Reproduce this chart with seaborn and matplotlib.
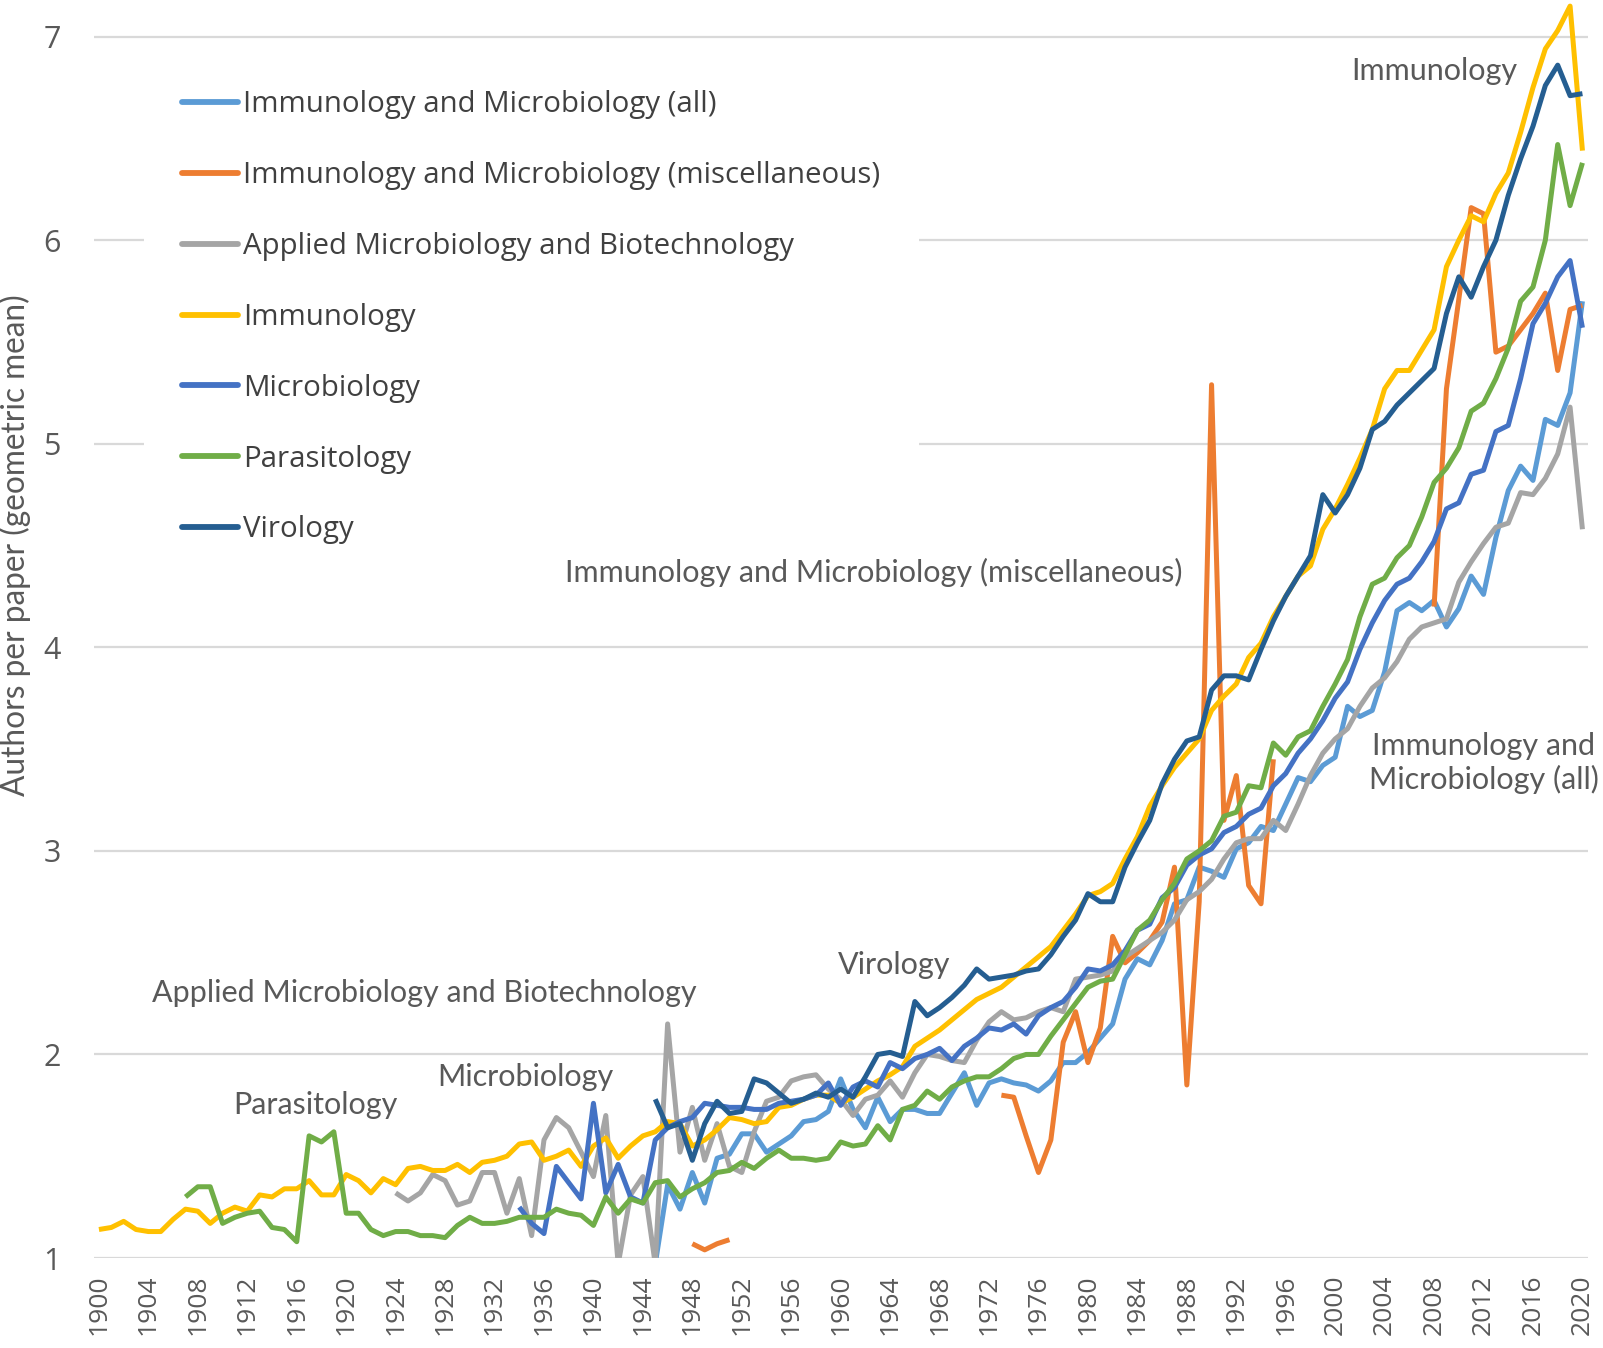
import matplotlib
matplotlib.use("Agg")
import matplotlib.pyplot as plt
from matplotlib.lines import Line2D
import seaborn as sns
import pandas as pd

# ---------------- data ----------------
series_names = [
    "Immunology and Microbiology (all)",
    "Immunology and Microbiology (miscellaneous)",
    "Applied Microbiology and Biotechnology",
    "Immunology",
    "Microbiology",
    "Parasitology",
    "Virology",
]
series_colors = ["#5B9BD5", "#ED7D31", "#A5A5A5", "#FFC000", "#4472C4", "#70AD47", "#255E91"]

# each series: first year, then yearly values (None = no data)
imm_micro_all_start = 1945
imm_micro_all = [
    0.97, 1.36, 1.24, 1.42, 1.27, 1.49, 1.51, 1.61, 1.61, 1.52,   # 1945-1954
    1.56, 1.60, 1.67, 1.68, 1.72, 1.88, 1.73, 1.64, 1.79, 1.67,   # 1955-1964
    1.73, 1.73, 1.71, 1.71, 1.81, 1.91, 1.75, 1.86, 1.88, 1.86,   # 1965-1974
    1.85, 1.82, 1.87, 1.96, 1.96, 2.01, 2.08, 2.15, 2.37, 2.47,   # 1975-1984
    2.44, 2.56, 2.74, 2.76, 2.92, 2.90, 2.87, 3.01, 3.04, 3.12,   # 1985-1994
    3.10, 3.23, 3.36, 3.34, 3.42, 3.46, 3.71, 3.66, 3.69, 3.88,   # 1995-2004
    4.18, 4.22, 4.18, 4.23, 4.10, 4.19, 4.35, 4.26, 4.54, 4.77,   # 2005-2014
    4.89, 4.82, 5.12, 5.09, 5.25, 5.70,                           # 2015-2020
]

imm_micro_misc_start = 1948
imm_micro_misc = [
    1.07, 1.04, 1.07, 1.09,                                       # 1948-1951
    None, None, None, None, None, None, None, None, None, None,   # 1952-1961
    None, None, None, None, None, None, None, None, None, None,   # 1962-1971
    None,                                                         # 1972
    1.80, 1.79, 1.60, 1.42, 1.58, 2.06, 2.21, 1.96, 2.13, 2.58,   # 1973-1982
    2.45, 2.50, 2.56, 2.65, 2.92, 1.85, 2.75, 5.29, 3.15, 3.37,   # 1983-1992
    2.83, 2.74, 3.45,                                             # 1993-1995
    None, None, None, None, None, None, None, None, None, None,   # 1996-2005
    None, None,                                                   # 2006-2007
    4.20, 5.27, 5.71, 6.16, 6.13, 5.45, 5.48, 5.56, 5.64, 5.74,   # 2008-2017
    5.36, 5.66, 5.68,                                             # 2018-2020
]

applied_start = 1924
applied = [
    1.32, 1.28, 1.32, 1.41, 1.38, 1.26, 1.28, 1.42, 1.42, 1.22,   # 1924-1933
    1.39, 1.11, 1.58, 1.69, 1.64, 1.52, 1.40, 1.70, 0.97, 1.31,   # 1934-1943
    1.40, 0.97, 2.15, 1.52, 1.74, 1.48, 1.66, 1.45, 1.42, 1.62,   # 1944-1953
    1.77, 1.79, 1.87, 1.89, 1.90, 1.83, 1.78, 1.70, 1.78, 1.80,   # 1954-1963
    1.87, 1.79, 1.91, 2.00, 1.99, 1.97, 1.96, 2.07, 2.16, 2.21,   # 1964-1973
    2.17, 2.18, 2.21, 2.23, 2.21, 2.37, 2.38, 2.39, 2.41, 2.48,   # 1974-1983
    2.52, 2.56, 2.60, 2.66, 2.76, 2.80, 2.86, 2.96, 3.04, 3.06,   # 1984-1993
    3.06, 3.15, 3.10, 3.23, 3.37, 3.48, 3.55, 3.60, 3.71, 3.80,   # 1994-2003
    3.85, 3.93, 4.04, 4.10, 4.12, 4.14, 4.32, 4.42, 4.51, 4.59,   # 2004-2013
    4.61, 4.76, 4.75, 4.83, 4.95, 5.18, 4.58,                     # 2014-2020
]

immunology_start = 1900
immunology = [
    1.14, 1.15, 1.18, 1.14, 1.13, 1.13, 1.19, 1.24, 1.23, 1.17,   # 1900-1909
    1.22, 1.25, 1.23, 1.31, 1.30, 1.34, 1.34, 1.38, 1.31, 1.31,   # 1910-1919
    1.41, 1.38, 1.32, 1.39, 1.36, 1.44, 1.45, 1.43, 1.43, 1.46,   # 1920-1929
    1.42, 1.47, 1.48, 1.50, 1.56, 1.57, 1.48, 1.50, 1.53, 1.45,   # 1930-1939
    1.55, 1.59, 1.49, 1.55, 1.60, 1.62, 1.67, 1.66, 1.55, 1.58,   # 1940-1949
    1.63, 1.69, 1.68, 1.66, 1.67, 1.74, 1.75, 1.78, 1.80, 1.80,   # 1950-1959
    1.76, 1.79, 1.83, 1.87, 1.90, 1.94, 2.04, 2.08, 2.12, 2.17,   # 1960-1969
    2.22, 2.27, 2.30, 2.33, 2.38, 2.43, 2.48, 2.53, 2.61, 2.69,   # 1970-1979
    2.78, 2.80, 2.84, 2.96, 3.07, 3.22, 3.32, 3.41, 3.48, 3.55,   # 1980-1989
    3.69, 3.76, 3.82, 3.95, 4.02, 4.15, 4.25, 4.35, 4.40, 4.58,   # 1990-1999
    4.68, 4.80, 4.93, 5.07, 5.27, 5.36, 5.36, 5.46, 5.56, 5.87,   # 2000-2009
    6.00, 6.12, 6.09, 6.23, 6.33, 6.53, 6.75, 6.94, 7.03, 7.15,   # 2010-2019
    6.44,                                                         # 2020
]

microbiology_start = 1934
microbiology = [
    1.25, 1.17, 1.12, 1.45, 1.37, 1.29, 1.76, 1.32, 1.46, 1.30,   # 1934-1943
    1.27, 1.58, 1.64, 1.67, 1.69, 1.76, 1.75, 1.74, 1.74, 1.73,   # 1944-1953
    1.73, 1.76, 1.77, 1.78, 1.80, 1.86, 1.75, 1.84, 1.87, 1.84,   # 1954-1963
    1.96, 1.93, 1.98, 2.00, 2.03, 1.97, 2.04, 2.08, 2.13, 2.12,   # 1964-1973
    2.15, 2.10, 2.19, 2.23, 2.26, 2.33, 2.42, 2.41, 2.44, 2.51,   # 1974-1983
    2.61, 2.64, 2.77, 2.82, 2.93, 2.98, 3.01, 3.09, 3.12, 3.18,   # 1984-1993
    3.21, 3.32, 3.38, 3.48, 3.55, 3.64, 3.75, 3.83, 3.99, 4.12,   # 1994-2003
    4.23, 4.31, 4.34, 4.42, 4.52, 4.68, 4.71, 4.85, 4.87, 5.06,   # 2004-2013
    5.09, 5.32, 5.59, 5.69, 5.82, 5.90, 5.57,                     # 2014-2020
]

parasitology_start = 1907
parasitology = [
    1.30, 1.35, 1.35,                                             # 1907-1909
    1.17, 1.20, 1.22, 1.23, 1.15, 1.14, 1.08, 1.60, 1.57, 1.62,   # 1910-1919
    1.22, 1.22, 1.14, 1.11, 1.13, 1.13, 1.11, 1.11, 1.10, 1.16,   # 1920-1929
    1.20, 1.17, 1.17, 1.18, 1.20, 1.20, 1.20, 1.24, 1.22, 1.21,   # 1930-1939
    1.16, 1.30, 1.22, 1.29, 1.27, 1.37, 1.38, 1.30, 1.34, 1.37,   # 1940-1949
    1.42, 1.43, 1.47, 1.44, 1.49, 1.53, 1.49, 1.49, 1.48, 1.49,   # 1950-1959
    1.57, 1.55, 1.56, 1.65, 1.58, 1.73, 1.75, 1.82, 1.78, 1.84,   # 1960-1969
    1.87, 1.89, 1.89, 1.93, 1.98, 2.00, 2.00, 2.09, 2.17, 2.25,   # 1970-1979
    2.33, 2.36, 2.37, 2.49, 2.61, 2.66, 2.76, 2.84, 2.96, 3.00,   # 1980-1989
    3.05, 3.17, 3.19, 3.32, 3.31, 3.53, 3.47, 3.56, 3.59, 3.71,   # 1990-1999
    3.82, 3.94, 4.15, 4.31, 4.34, 4.44, 4.50, 4.64, 4.81, 4.88,   # 2000-2009
    4.98, 5.16, 5.20, 5.32, 5.47, 5.70, 5.77, 6.00, 6.47, 6.17,   # 2010-2019
    6.38,                                                         # 2020
]

virology_start = 1945
virology = [
    1.78, 1.64, 1.66, 1.48, 1.66, 1.77, 1.71, 1.72, 1.88, 1.86,   # 1945-1954
    1.81, 1.76, 1.78, 1.81, 1.79, 1.83, 1.79, 1.89, 2.00, 2.01,   # 1955-1964
    1.99, 2.26, 2.19, 2.23, 2.28, 2.34, 2.42, 2.37, 2.38, 2.39,   # 1965-1974
    2.41, 2.42, 2.49, 2.58, 2.66, 2.79, 2.75, 2.75, 2.92, 3.04,   # 1975-1984
    3.15, 3.33, 3.45, 3.54, 3.56, 3.79, 3.86, 3.86, 3.84, 3.99,   # 1985-1994
    4.13, 4.25, 4.35, 4.45, 4.75, 4.66, 4.75, 4.88, 5.07, 5.11,   # 1995-2004
    5.19, 5.25, 5.31, 5.37, 5.64, 5.82, 5.72, 5.87, 6.00, 6.22,   # 2005-2014
    6.40, 6.56, 6.76, 6.86, 6.71, 6.72,                           # 2015-2020
]

x_tick_years = list(range(1900, 2021, 4))
y_ticks = [1, 2, 3, 4, 5, 6, 7]

# annotation labels: (text, year, value)
annotations = [
    ("Immunology", 2008.0, 6.83),
    ("Immunology and Microbiology (miscellaneous)", 1962.7, 4.37),
    ("Immunology and\nMicrobiology (all)", 2012.0, 3.43),
    ("Virology", 1964.3, 2.44),
    ("Applied Microbiology and Biotechnology", 1926.3, 2.30),
    ("Microbiology", 1934.5, 1.89),
    ("Parasitology", 1917.55, 1.75),
]

# ---------------- build long table ----------------
series_data = [
    (imm_micro_all_start, imm_micro_all),
    (imm_micro_misc_start, imm_micro_misc),
    (applied_start, applied),
    (immunology_start, immunology),
    (microbiology_start, microbiology),
    (parasitology_start, parasitology),
    (virology_start, virology),
]
rows = []
seg_id = 0
for name, (start, vals) in zip(series_names, series_data):
    seg_id += 1
    for i, v in enumerate(vals):
        if v is None:
            seg_id += 1
            continue
        rows.append({"year": start + i, "value": v, "series": name, "segment": seg_id})
df = pd.DataFrame(rows)

# ---------------- plot ----------------
sns.set_style("white")
plt.rcParams["font.family"] = ["Open Sans", "DejaVu Sans"]

W, H = 1603, 1348
fig = plt.figure(figsize=(W / 100, H / 100), dpi=100)
ax = fig.add_axes([94 / W, 90 / H, 1494 / W, 1258 / H])

sns.lineplot(
    data=df, x="year", y="value", hue="series", units="segment",
    estimator=None, hue_order=series_names, palette=series_colors,
    linewidth=3.6, legend=False, ax=ax, sort=True,
)
for ln in ax.lines:
    ln.set_solid_joinstyle("round")
    ln.set_solid_capstyle("butt")

ax.set_xlim(1899.6, 2020.45)
ax.set_ylim(1, 7.18)
ax.set_xticks(x_tick_years)
ax.set_xticklabels([str(y) for y in x_tick_years], rotation=90)
ax.set_yticks(y_ticks)
ax.set_yticklabels([str(v) for v in y_ticks])
ax.tick_params(axis="both", length=0, colors="#595959")
ax.tick_params(axis="x", pad=12, labelsize=19)
ax.tick_params(axis="y", pad=24, labelsize=22)
ax.set_xlabel("")
ax.set_ylabel("")
for sp in ax.spines.values():
    sp.set_visible(False)
ax.yaxis.grid(True, color="#D9D9D9", linewidth=1.6)
ax.xaxis.grid(False)
ax.set_axisbelow(True)

fig.text(0.0094, 1 - 545 / H, "Authors per paper (geometric mean)", rotation=90,
         ha="center", va="center", fontsize=22.8, color="#595959",
         family=["Lato", "DejaVu Sans"])

for text, xv, yv in annotations:
    ax.text(xv, yv, text, ha="center", va="center", fontsize=22, color="#595959",
            family=["Lato", "DejaVu Sans"], multialignment="center",
            linespacing=1.2,
            bbox=dict(facecolor="white", edgecolor="none", pad=1.5), zorder=7)

handles = [Line2D([0], [0], color=c, linewidth=4.2, solid_capstyle="round") for c in series_colors]
leg = ax.legend(handles, series_names, loc="upper left", bbox_to_anchor=(0.0335, 0.9585),
                borderaxespad=0, frameon=True, fancybox=False, fontsize=21.2,
                labelcolor="#404040", handlelength=1.9, handletextpad=0.17,
                labelspacing=1.42, borderpad=1.3)
leg.get_frame().set_facecolor("white")
leg.get_frame().set_edgecolor("none")
leg.get_frame().set_alpha(1)
leg.set_zorder(6)

fig.savefig("out.png", dpi=100, facecolor="white")
